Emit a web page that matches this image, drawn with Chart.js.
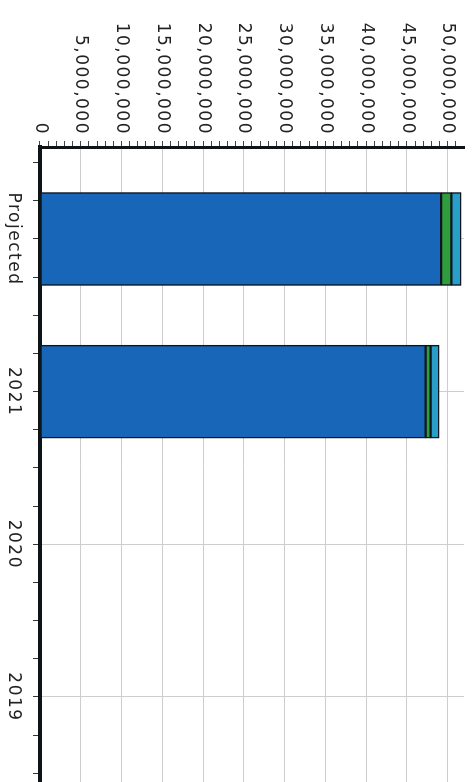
<!DOCTYPE html>
<html>
<head>
<meta charset="utf-8">
<script src="https://cdn.jsdelivr.net/npm/chart.js@4.4.0/dist/chart.umd.min.js"></script>
<style>
  html, body { margin: 0; padding: 0; background: #fff; overflow: hidden; }
  /* the scan is turned a quarter clockwise, so the whole chart is drawn upright and rotated */
  #wrap { position: absolute; left: 474px; top: 0; width: 782px; height: 474px; transform-origin: 0 0; transform: rotate(90deg); }
</style>
</head>
<body>
<div id="wrap"><canvas id="myChart" width="782" height="474"></canvas></div>
<script>
const categories = ['Projected', '2021', '2020', '2019'];
const mainValues = [49200000, 47300000, null, null];
const greenValues = [1250000, 600000, null, null];
const cyanValues = [1200000, 1050000, null, null];
const valueTickLabels = ['0', '5,000,000', '10,000,000', '15,000,000', '20,000,000', '25,000,000',
  '30,000,000', '35,000,000', '40,000,000', '45,000,000', '50,000,000'];

const toPoints = vals => vals.map((v, i) => ({ x: i, y: v }));

const datasets = [
  { label: 'Main', data: toPoints(mainValues), backgroundColor: '#1766b8' },
  { label: 'Green', data: toPoints(greenValues), backgroundColor: '#2f9d3c' },
  { label: 'Cyan', data: toPoints(cyanValues), backgroundColor: '#279fc9' }
].map(d => Object.assign(d, { borderColor: '#0d1620', borderWidth: 1.5, borderSkipped: false, barThickness: 93 }));

const font = { family: 'DejaVu Sans', size: 17 };

const spacing = {
  id: 'spacing',
  beforeDraw: chart => { chart.ctx.letterSpacing = '1.5px'; }
};

new Chart(document.getElementById('myChart'), {
  type: 'bar',
  data: { datasets },
  plugins: [spacing],
  options: {
    responsive: false,
    animation: false,
    layout: { padding: { top: 10, right: 0, left: 0, bottom: 0 } },
    plugins: { legend: { display: false }, tooltip: { enabled: false } },
    scales: {
      x: {
        type: 'linear',
        stacked: true,
        offset: false,
        min: -0.6026,
        max: 3.557,
        afterBuildTicks: s => {
          const t = [];
          for (let k = 0; k <= 16; k++) t.push({ value: -0.5 + k * 0.25 });
          s.ticks = t;
        },
        afterFit: s => { s.height = 40; s.paddingLeft = 0; s.paddingRight = 0; },
        border: { color: '#0d1317', width: 4 },
        grid: {
          offset: false,
          color: c => c.tick && Number.isInteger(c.tick.value) ? '#cdcdcd' : 'rgba(0,0,0,0)',
          tickColor: '#333',
          tickLength: 7,
          lineWidth: 1
        },
        ticks: {
          autoSkip: false,
          maxRotation: 0,
          minRotation: 0,
          padding: 9,
          color: '#222',
          font,
          callback: v => Number.isInteger(v) ? categories[v] : ''
        }
      },
      y: {
        stacked: true,
        min: 0,
        max: 52000000,
        afterBuildTicks: s => {
          const t = [];
          for (let k = 0; k <= 51; k++) t.push({ value: k * 1000000 });
          s.ticks = t;
        },
        afterFit: s => { s.width = 147; s.paddingTop = 0; s.paddingBottom = 0; },
        border: { color: '#0d1317', width: 3 },
        grid: {
          color: c => c.tick && c.tick.value % 5000000 === 0 ? '#cdcdcd' : 'rgba(0,0,0,0)',
          tickColor: '#444',
          tickLength: 6,
          lineWidth: 1
        },
        ticks: {
          autoSkip: false,
          padding: 6,
          color: '#222',
          font,
          callback: v => v % 5000000 === 0 ? valueTickLabels[v / 5000000] : ''
        }
      }
    }
  }
});
</script>
</body>
</html>
